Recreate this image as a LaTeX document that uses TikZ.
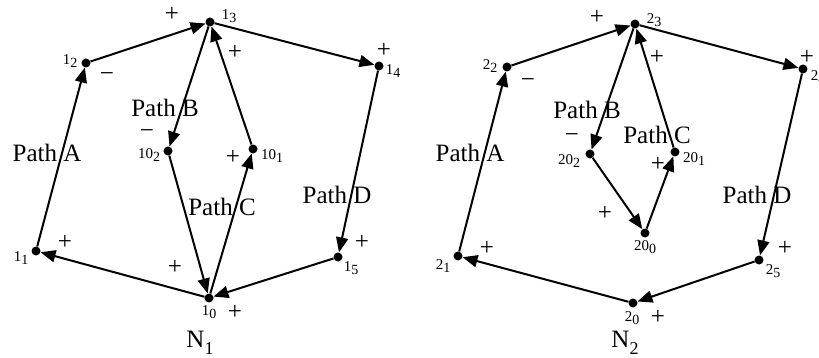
\documentclass[tikz,border=0pt]{standalone}
\usepackage{fontspec}
\setmainfont{Liberation Serif}
\usetikzlibrary{arrows.meta}
\newcommand\numlab[2]{#1\raisebox{-0.15em}{\fontsize{14}{14}\selectfont #2}}
\newcommand\netlab[2]{#1\raisebox{-0.3em}{\fontsize{18}{18}\selectfont #2}}
\tikzset{
  dot/.style={circle,fill=black,inner sep=0pt,minimum size=9pt},
  arr/.style={line width=2pt,-{Triangle[length=15pt,width=12pt]}},
  num/.style={inner sep=0pt,font=\fontsize{15}{15}\selectfont},
  sgn/.style={inner sep=0pt,font=\fontsize{25}{25}\selectfont},
  pth/.style={inner sep=0pt,font=\fontsize{25}{28}\selectfont},
  net/.style={inner sep=0pt,font=\fontsize{25}{28}\selectfont}
}
\begin{document}
\begin{tikzpicture}[x=1pt,y=-1pt]
\useasboundingbox (0,0) rectangle (819,358);
% ---------- N1 ----------
\node[dot] (a13) at (210,22) {};
\node[dot] (a12) at (86,63) {};
\node[dot] (a14) at (379,66) {};
\node[dot] (a102) at (168,151) {};
\node[dot] (a101) at (253,149) {};
\node[dot] (a11) at (36,251) {};
\node[dot] (a10) at (209,298) {};
\node[dot] (a15) at (338,257) {};
\draw[arr] (a11) -- (a12);
\draw[arr] (a12) -- (a13);
\draw[arr] (a13) -- (a14);
\draw[arr] (a14) -- (a15);
\draw[arr] (a15) -- (a10);
\draw[arr] (a10) -- (a11);
\draw[arr] (a13) -- (a102);
\draw[arr] (a102) -- (a10);
\draw[arr] (a10) -- (a101);
\draw[arr] (a101) -- (a13);
\node[num] (l13) at (229,16) {\numlab{1}{3}};
\node[num] (l12) at (70,61) {\numlab{1}{2}};
\node[num] (l14) at (393,71) {\numlab{1}{4}};
\node[num] (l102) at (149,155) {\numlab{10}{2}};
\node[num] (l101) at (272,156) {\numlab{10}{1}};
\node[num] (l11) at (21,258) {\numlab{1}{1}};
\node[num] (l10) at (209,312) {\numlab{1}{0}};
\node[num] (l15) at (351,268) {\numlab{1}{5}};
\node[sgn] (s1) at (172,14) {+};
\node[sgn] (s2) at (235,52) {+};
\node[sgn] (s3) at (384,50) {+};
\node[sgn] (s4) at (107,77) {−};
\node[sgn] (s5) at (147,134) {−};
\node[sgn] (s6) at (233,157) {+};
\node[sgn] (s7) at (65,242) {+};
\node[sgn] (s8) at (175,267) {+};
\node[sgn] (s9) at (235,312) {+};
\node[sgn] (s10) at (362,242) {+};
\node[pth] (pa) at (47,153) {Path A};
\node[pth] (pb) at (165,108) {Path B};
\node[pth] (pc) at (222,207) {Path C};
\node[pth] (pd) at (337,195) {Path D};
\node[net] (n1) at (200,343) {\netlab{N}{1}};
% ---------- N2 ----------
\node[dot] (b23) at (635,24) {};
\node[dot] (b22) at (507,67) {};
\node[dot] (b24) at (803,69) {};
\node[dot] (b202) at (590,154) {};
\node[dot] (b201) at (675,152) {};
\node[dot] (b200) at (645,233) {};
\node[dot] (b21) at (458,256) {};
\node[dot] (b20) at (633,303) {};
\node[dot] (b25) at (759,260) {};
\draw[arr] (b21) -- (b22);
\draw[arr] (b22) -- (b23);
\draw[arr] (b23) -- (b24);
\draw[arr] (b24) -- (b25);
\draw[arr] (b25) -- (b20);
\draw[arr] (b20) -- (b21);
\draw[arr] (b23) -- (b202);
\draw[arr] (b202) -- (b200);
\draw[arr] (b200) -- (b201);
\draw[arr] (b201) -- (b23);
\node[num] (m23) at (654,20) {\numlab{2}{3}};
\node[num] (m22) at (490,66) {\numlab{2}{2}};
\node[num] (m24) at (818,77) {\numlab{2}{4}};
\node[num] (m202) at (569,161) {\numlab{20}{2}};
\node[num] (m201) at (694,159) {\numlab{20}{1}};
\node[num] (m200) at (645,247) {\numlab{20}{0}};
\node[num] (m21) at (443,266) {\numlab{2}{1}};
\node[num] (m20) at (632,318) {\numlab{2}{0}};
\node[num] (m25) at (773,271) {\numlab{2}{5}};
\node[sgn] (t1) at (597,17) {+};
\node[sgn] (t2) at (657,57) {+};
\node[sgn] (t3) at (807,57) {+};
\node[sgn] (t4) at (528,83) {−};
\node[sgn] (t5) at (572,138) {−};
\node[sgn] (t6) at (658,164) {+};
\node[sgn] (t7) at (605,213) {+};
\node[sgn] (t8) at (487,248) {+};
\node[sgn] (t9) at (658,317) {+};
\node[sgn] (t10) at (785,248) {+};
\node[pth] (qa) at (470,153) {Path A};
\node[pth] (qb) at (587,110) {Path B};
\node[pth] (qc) at (657,135) {Path C};
\node[pth] (qd) at (757,195) {Path D};
\node[net] (n2) at (625,343) {\netlab{N}{2}};
\end{tikzpicture}
\end{document}
